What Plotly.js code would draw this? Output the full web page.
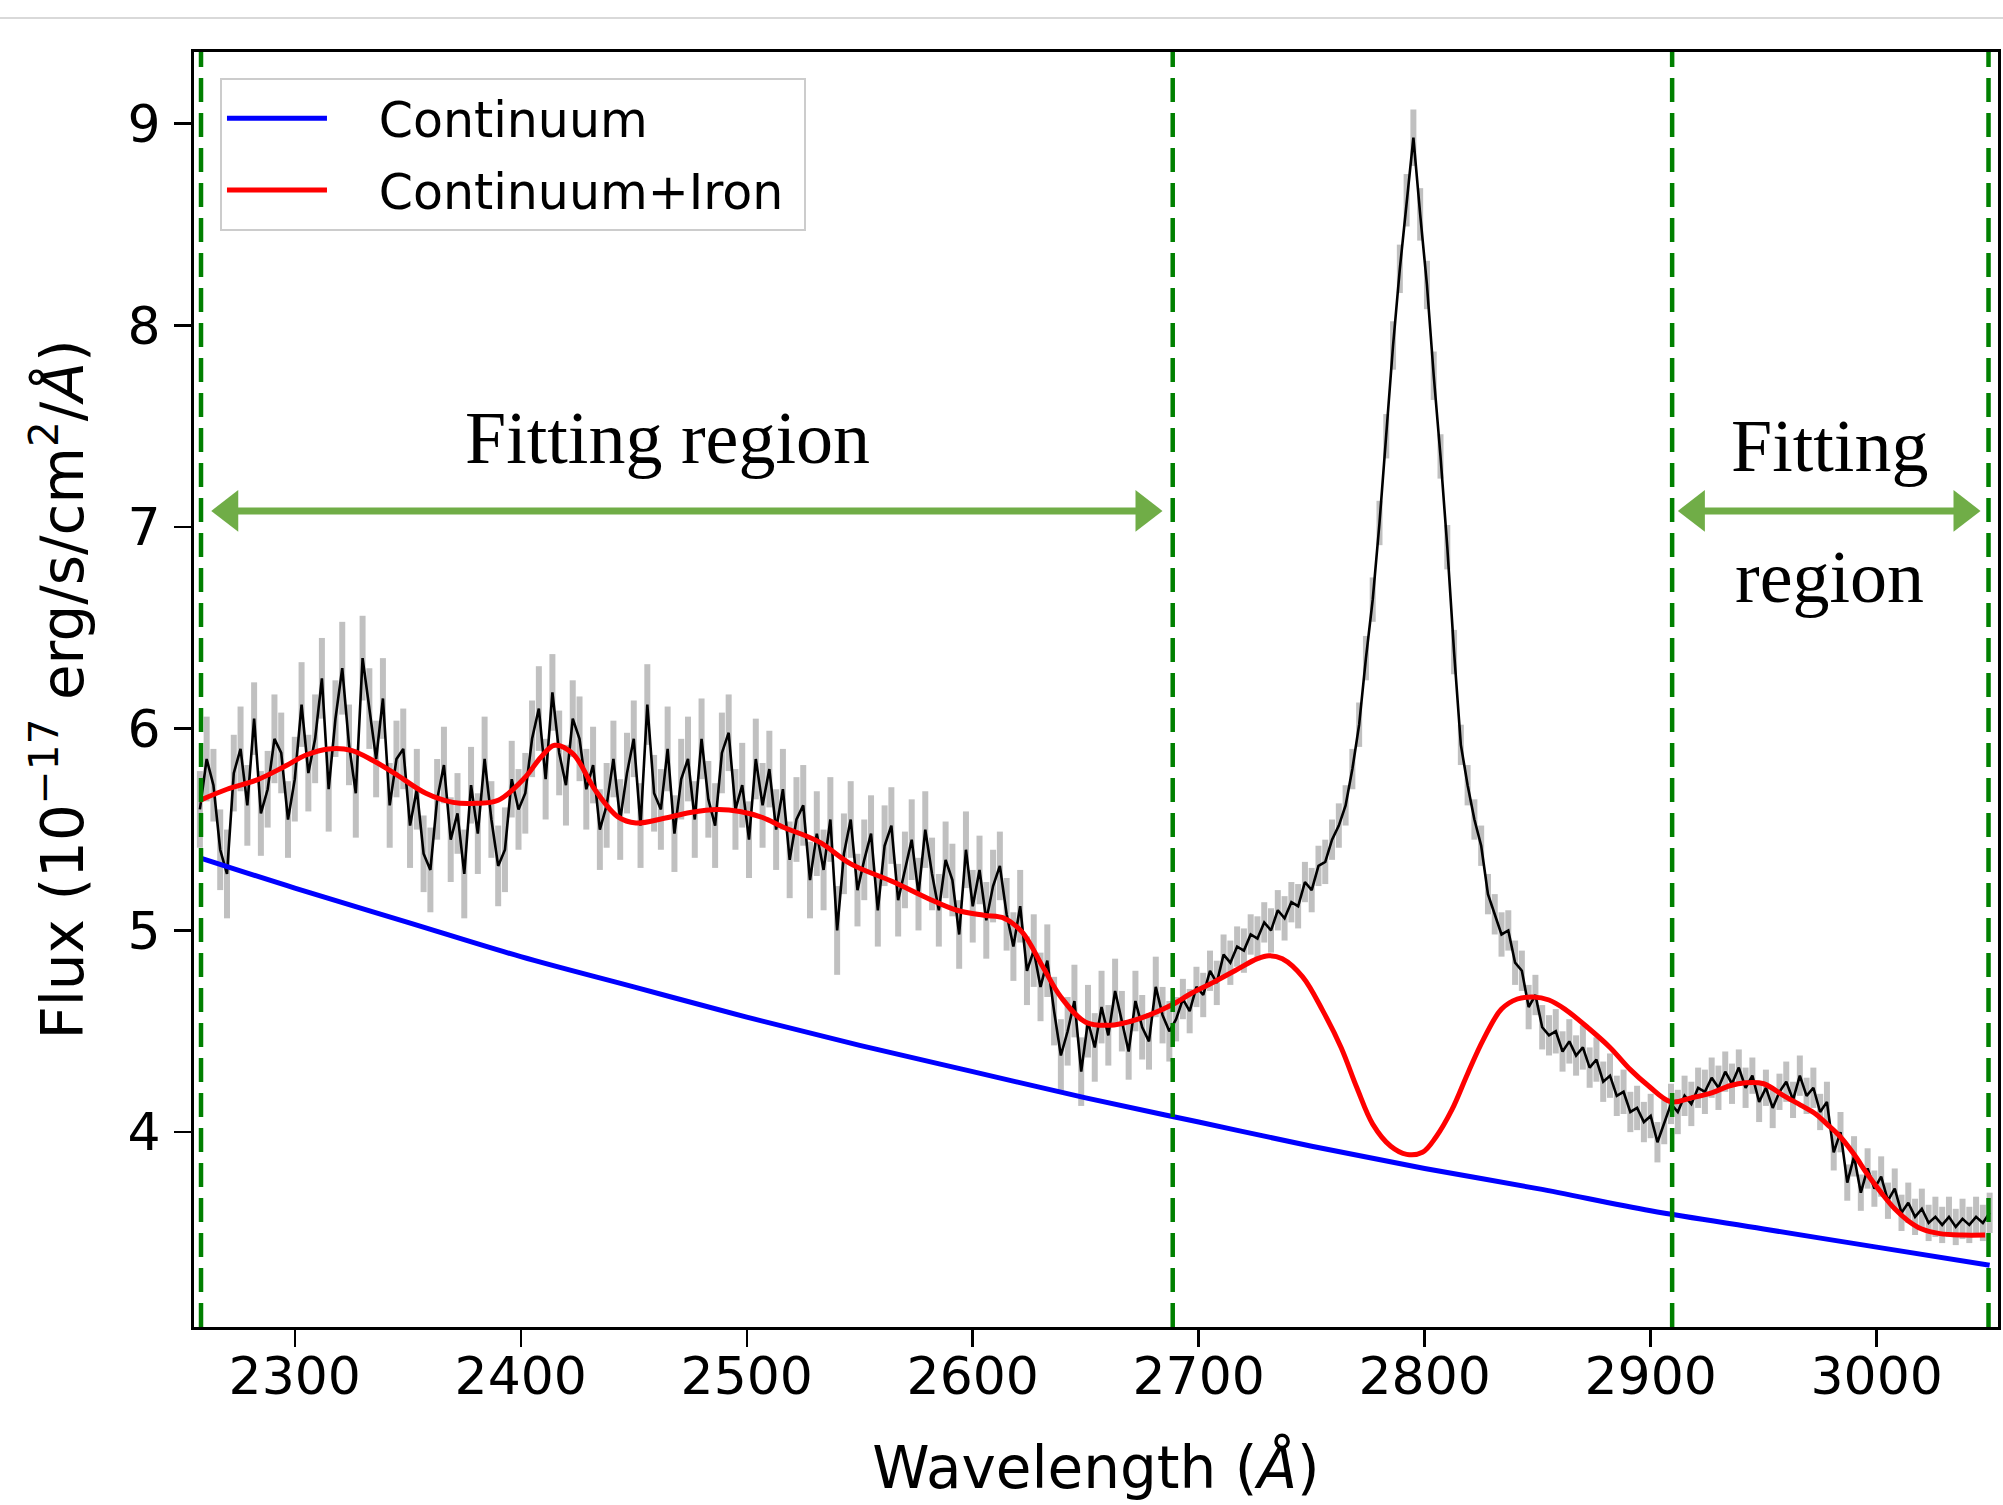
<!DOCTYPE html>
<html>
<head>
<meta charset="utf-8">
<script src="https://cdn.plot.ly/plotly-3.0.1.min.js"></script>
<style>
  html, body { margin: 0; padding: 0; background: #ffffff; }
  #chart { width: 2003px; height: 1505px; }
</style>
</head>
<body>
<div id="chart"></div>
<script>
// ---- observed spectrum (rest-frame), sampled every 3 Å from 2258 Å ----
const wavelengthStart = 2258;
const wavelengthStep = 3;
const flux = [
  5.60,5.85,5.72,5.40,5.28,5.78,5.90,5.62,6.05,5.58,5.70,5.95,5.88,5.55,5.75,
  6.12,5.78,5.95,6.25,5.70,6.05,6.30,5.92,5.68,6.35,6.10,5.85,
  6.15,5.62,5.85,5.90,5.52,
  5.70,5.38,5.30,5.65,5.82,5.45,5.58,5.28,5.72,5.48,5.85,5.55,5.32,5.40,5.75,5.60,
  5.68,5.95,6.10,5.75,6.18,5.88,5.72,6.05,5.95,5.70,
  5.82,5.50,5.62,5.85,5.55,
  5.78,5.95,5.52,6.12,5.68,5.60,5.90,5.48,5.75,5.85,5.55,5.95,5.65,5.52,5.88,5.98,5.60,5.72,5.45,5.85,5.62,5.80,5.50,
  5.70,5.35,5.55,5.62,5.25,5.48,5.30,5.55,5.00,5.38,
  5.55,5.20,5.35,5.48,5.10,5.42,5.52,5.15,5.30,5.45,5.18,5.50,5.28,
  5.10,5.35,5.25,4.98,5.40,5.12,5.30,5.05,5.22,5.32,
  5.08,4.92,5.12,4.80,4.90,4.72,4.85,
  4.60,4.38,4.50,4.65,4.30,4.55,4.42,4.62,
  4.48,4.70,4.55,4.40,4.65,4.52,4.45,4.72,4.58,4.50,
  4.56,4.66,4.60,4.72,4.68,4.80,4.74,4.88,4.84,4.92,4.90,4.98,4.96,5.04,5.00,5.10,5.06,5.14,5.12,5.24,5.20,5.32,5.34,5.45,5.52,
  5.62,5.80,6.02,6.35,6.64,7.02,7.45,7.90,8.28,8.62,8.93,8.55,8.20,7.75,7.35,6.90,6.38,5.92,5.72,5.55,5.42,5.18,
  5.08,4.98,5.00,4.84,4.80,4.62,4.68,4.52,4.48,4.50,4.40,4.45,4.38,4.42,4.32,4.36,4.25,4.28,4.18,4.20,4.10,4.12,4.05,4.08,3.95,4.05,4.14,4.10,4.18,4.14,4.22,4.20,4.27,4.22,4.30,
  4.24,4.32,4.22,4.28,4.15,4.22,4.12,4.20,4.25,4.16,4.28,4.18,4.22,4.10,4.15,3.90,4.00,3.75,3.88,3.70,3.82,3.72,3.78,3.66,3.72,3.60,3.65,3.58,3.62,3.55,3.58,3.54,3.58,3.53,3.57,3.54,3.58,3.55,3.60
];
const fluxErr = [
  0.19,0.21,0.18,0.20,0.22,0.19,0.21,0.20,0.18,0.21,0.19,0.22,0.20,0.19,0.21,
  0.21,0.19,0.22,0.20,0.21,0.19,0.23,0.20,0.22,0.21,0.20,0.19,
  0.20,0.21,0.19,0.20,0.21,
  0.20,0.19,0.21,0.20,0.19,0.21,0.20,0.22,0.19,0.20,0.21,0.19,0.20,0.21,0.19,0.20,
  0.20,0.19,0.21,0.20,0.19,0.21,0.20,0.19,0.21,0.20,
  0.19,0.20,0.21,0.19,0.20,
  0.20,0.19,0.21,0.20,0.19,0.20,0.21,0.19,0.20,0.21,0.19,0.20,0.19,0.21,0.20,0.19,0.20,0.21,0.19,0.20,0.21,0.19,0.20,
  0.20,0.19,0.21,0.20,0.19,0.21,0.20,0.21,0.22,0.20,
  0.19,0.18,0.20,0.19,0.18,0.20,0.19,0.18,0.19,0.20,0.18,0.19,0.18,
  0.18,0.19,0.18,0.17,0.19,0.18,0.17,0.19,0.18,0.17,
  0.18,0.17,0.18,0.17,0.18,0.17,0.18,
  0.17,0.18,0.17,0.18,0.17,0.18,0.17,0.18,
  0.15,0.16,0.15,0.14,0.15,0.16,0.14,0.15,0.14,0.15,
  0.11,0.10,0.11,0.10,0.11,0.10,0.11,0.10,0.11,0.10,0.11,0.10,0.11,0.10,0.11,0.10,0.11,0.10,0.11,0.10,0.11,0.10,0.11,0.10,0.11,
  0.10,0.10,0.11,0.11,0.11,0.11,0.11,0.12,0.12,0.13,0.14,0.13,0.12,0.12,0.11,0.11,0.11,0.10,0.10,0.10,0.10,0.10,
  0.10,0.11,0.10,0.11,0.10,0.11,0.10,0.11,0.10,0.11,0.10,0.11,0.10,0.11,0.10,0.11,0.10,0.11,0.10,0.11,0.10,0.11,0.10,0.11,0.10,0.11,0.10,0.11,0.10,0.11,0.10,0.11,0.10,0.11,0.10,
  0.10,0.09,0.10,0.09,0.10,0.09,0.10,0.09,0.10,0.09,0.10,0.09,0.10,0.09,0.10,0.09,0.10,0.09,0.10,0.09,0.10,0.09,0.10,0.09,0.10,0.09,0.10,0.09,0.10,0.09,0.10,0.09,0.10,0.09,0.10,0.09,0.10,0.09,0.10
];
const wavelength = flux.map((_, i) => wavelengthStart + wavelengthStep * i);

// ---- power-law continuum ----
const contWave = [2258,2300,2350,2400,2450,2500,2550,2600,2650,2700,2750,2800,2850,2900,2950,3000,3050];
const contFlux = [5.36,5.21,5.04,4.87,4.72,4.57,4.43,4.30,4.17,4.05,3.93,3.82,3.72,3.61,3.52,3.43,3.34];

// ---- continuum + iron template ----
const ironWave = [2258,2270,2283,2295,2305,2315,2325,2335,2344,2358,2370,2380,2390,2402,2409,2415,2423,2433,2443,2451,2463,2475,2487,2497,2507,2516,2532,2546,2565,2580,2593,2605,2614,2622,2631,2639,2650,2661,2670,2678,2688,2697,2706,2716,2726,2731,2737,2746,2755,2763,2770,2777,2785,2792,2799,2805,2812,2819,2826,2834,2841,2848,2855,2862,2872,2882,2891,2899,2909,2918,2927,2935,2942,2950,2959,2967,2973,2978,2984,2990,2996,3002,3008,3014,3020,3028,3038,3048];
const ironFlux = [5.645,5.70,5.745,5.81,5.87,5.90,5.893,5.84,5.78,5.68,5.635,5.63,5.645,5.76,5.86,5.918,5.877,5.695,5.563,5.533,5.555,5.585,5.60,5.59,5.56,5.513,5.439,5.33,5.24,5.16,5.10,5.075,5.06,4.99,4.82,4.67,4.545,4.53,4.55,4.58,4.63,4.69,4.74,4.80,4.86,4.875,4.86,4.77,4.60,4.42,4.22,4.04,3.93,3.89,3.90,3.976,4.11,4.29,4.46,4.61,4.66,4.67,4.655,4.61,4.52,4.42,4.31,4.23,4.15,4.17,4.195,4.23,4.245,4.24,4.18,4.13,4.09,4.04,3.976,3.89,3.79,3.70,3.62,3.56,3.52,3.497,3.49,3.49];

// ---- fitting-window boundaries, arrows and labels ----
const windowEdges = [2258.5, 2688.5, 2909.5, 3049.5];
const arrowLeftEnds = [2271, 2920];     // centres of the left-pointing heads
const arrowRightEnds = [2676, 3038];    // centres of the right-pointing heads
const arrowLevel = 7.08;
const regionLabels = [
  {text: 'Fitting region', x: 2465, y: 7.44},
  {text: 'Fitting', x: 2979, y: 7.40},
  {text: 'region', x: 2979, y: 6.75}
];
const legendLabels = ['Continuum', 'Continuum+Iron'];
const xTicks = [2300, 2400, 2500, 2600, 2700, 2800, 2900, 3000];
const yTicks = [4, 5, 6, 7, 8, 9];

const arrowGreen = '#70AD47';
const gap = '\u00a0\u00a0\u00a0';
const traces = [
  {
    x: wavelength, y: flux, type: 'scatter', mode: 'markers',
    marker: {size: 1, color: 'rgba(0,0,0,0)'},
    error_y: {type: 'data', array: fluxErr, visible: true, color: '#c0c0c0', thickness: 6, width: 0},
    showlegend: false, hoverinfo: 'skip'
  },
  {
    x: wavelength, y: flux, type: 'scatter', mode: 'lines',
    line: {color: '#000000', width: 2.6},
    showlegend: false
  },
  {
    x: contWave, y: contFlux, type: 'scatter', mode: 'lines', name: gap + legendLabels[0],
    legendgroup: 'cont',
    line: {color: '#0000ff', width: 5, shape: 'spline'}
  },
  {
    x: ironWave, y: ironFlux, type: 'scatter', mode: 'lines', name: gap + legendLabels[1] + '\u00a0',
    legendgroup: 'iron',
    line: {color: '#ff0000', width: 5, shape: 'spline'}
  }
];
arrowLeftEnds.forEach((s, i) => {
  traces.push({
    x: [s, arrowRightEnds[i]], y: [arrowLevel, arrowLevel],
    type: 'scatter', mode: 'lines+markers', showlegend: false, hoverinfo: 'skip',
    line: {color: arrowGreen, width: 7},
    marker: {symbol: ['triangle-left', 'triangle-right'], size: 36, color: arrowGreen, line: {width: 0}}
  });
});

const shapes = windowEdges.map(v => ({
  type: 'line', xref: 'x', yref: 'paper', x0: v, x1: v, y0: 0, y1: 1,
  line: {color: '#008000', width: 4.5, dash: '24px,11px'}, layer: 'above'
}));
shapes.push({
  type: 'line', xref: 'paper', yref: 'paper', x0: -0.12, x1: 1.01, y0: 1.0267, y1: 1.0267,
  line: {color: '#d9d9d9', width: 2}
});

const annotations = regionLabels.map(l => ({
  xref: 'x', yref: 'y', x: l.x, y: l.y, text: l.text, showarrow: false,
  xanchor: 'center', yanchor: 'middle',
  font: {family: '"Liberation Serif", "Times New Roman", serif', size: 74, color: '#000000'}
}));

const tickFont = {family: '"DejaVu Sans", sans-serif', size: 52, color: '#000000'};
const titleFont = {family: '"DejaVu Sans", sans-serif', size: 58, color: '#000000'};
const layout = {
  width: 2003, height: 1505,
  margin: {l: 194, r: 5, t: 52, b: 178},
  paper_bgcolor: '#ffffff', plot_bgcolor: '#ffffff',
  font: {family: '"DejaVu Sans", sans-serif', color: '#000000'},
  xaxis: {
    range: [2255.4, 3053.7], tickvals: xTicks, ticktext: xTicks.map(String),
    showgrid: false, zeroline: false, showline: true, mirror: true,
    linecolor: '#000000', linewidth: 3, ticks: 'outside', ticklen: 17, tickwidth: 2.5, tickcolor: '#000000',
    tickfont: tickFont, ticklabelstandoff: -15,
    title: {text: 'Wavelength (<i>Å</i>)', font: titleFont, standoff: 42}
  },
  yaxis: {
    range: [3.034, 9.355], tickvals: yTicks, ticktext: yTicks.map(String),
    showgrid: false, zeroline: false, showline: true, mirror: true,
    linecolor: '#000000', linewidth: 3, ticks: 'outside', ticklen: 17, tickwidth: 2.5, tickcolor: '#000000',
    tickfont: tickFont, ticklabelstandoff: 3,
    title: {text: 'Flux (10<sup>−17</sup> erg/s/cm<sup>2</sup>/<i>Å</i>)', font: titleFont, standoff: 26}
  },
  legend: {
    x: 0.0144, y: 0.9796, xanchor: 'left', yanchor: 'top',
    font: {family: '"DejaVu Sans", sans-serif', size: 49, color: '#000000'},
    bgcolor: 'rgba(255,255,255,0.85)', bordercolor: '#cccccc', borderwidth: 2,
    itemwidth: 100, traceorder: 'grouped', tracegroupgap: 5
  },
  shapes: shapes,
  annotations: annotations,
  showlegend: true
};

Plotly.newPlot('chart', traces, layout, {displayModeBar: false, staticPlot: true});
</script>
</body>
</html>
